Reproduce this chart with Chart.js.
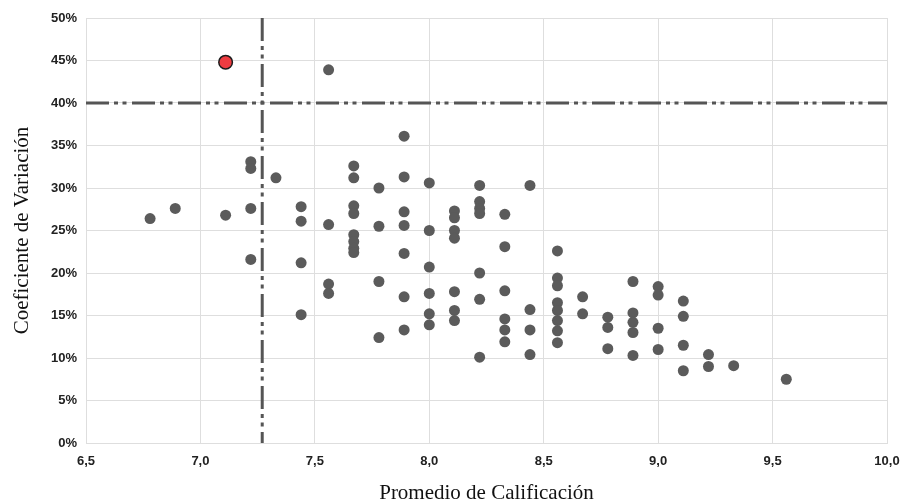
<!DOCTYPE html>
<html><head><meta charset="utf-8">
<script src="https://cdn.jsdelivr.net/npm/chart.js@4.4.0/dist/chart.umd.min.js"></script>
<style>html,body{margin:0;padding:0;background:#fff}#wrap{width:903px;height:502px}</style>
</head><body><div id="wrap"><canvas id="c" width="903" height="502"></canvas></div>
<script>
// Promedio de Calificación (x) and Coeficiente de Variación in % (y)
const promedio = [
  6.78, 6.89, 7.11,
  7.22, 7.22, 7.22, 7.22,
  7.33,
  7.44, 7.44, 7.44, 7.44,
  7.56, 7.56, 7.56, 7.56,
  7.67, 7.67, 7.67, 7.67, 7.67, 7.67, 7.67, 7.67,
  7.78, 7.78, 7.78, 7.78,
  7.89, 7.89, 7.89, 7.89, 7.89, 7.89, 7.89,
  8.00, 8.00, 8.00, 8.00, 8.00, 8.00,
  8.11, 8.11, 8.11, 8.11, 8.11, 8.11, 8.11,
  8.22, 8.22, 8.22, 8.22, 8.22, 8.22, 8.22,
  8.33, 8.33, 8.33, 8.33, 8.33, 8.33,
  8.44, 8.44, 8.44, 8.44,
  8.56, 8.56, 8.56, 8.56, 8.56, 8.56, 8.56, 8.56,
  8.67, 8.67,
  8.78, 8.78, 8.78,
  8.89, 8.89, 8.89, 8.89, 8.89,
  9.00, 9.00, 9.00, 9.00,
  9.11, 9.11, 9.11, 9.11,
  9.22, 9.22,
  9.33,
  9.56
];
const coeficiente = [
  26.4, 27.6, 26.8,
  33.1, 32.3, 27.6, 21.6,
  31.2,
  27.8, 26.1, 21.2, 15.1,
  43.9, 25.7, 18.7, 17.6,
  32.6, 31.2, 27.9, 27.0, 24.5, 23.7, 22.9, 22.4,
  30.0, 25.5, 19.0, 12.4,
  36.1, 31.3, 27.2, 25.6, 22.3, 17.2, 13.3,
  30.6, 25.0, 20.7, 17.6, 15.2, 13.9,
  27.3, 26.5, 25.0, 24.1, 17.8, 15.6, 14.4,
  30.3, 28.4, 27.6, 27.0, 20.0, 16.9, 10.1,
  26.9, 23.1, 17.9, 14.6, 13.3, 11.9,
  30.3, 15.7, 13.3, 10.4,
  22.6, 19.4, 18.5, 16.5, 15.6, 14.4, 13.2, 11.8,
  17.2, 15.2,
  14.8, 13.6, 11.1,
  19.0, 15.3, 14.2, 13.0, 10.3,
  18.4, 17.4, 13.5, 11.0,
  16.7, 14.9, 11.5, 8.5,
  10.4, 9.0,
  9.1,
  7.5
];
// highlighted case
const destacadoX = [7.11];
const destacadoY = [44.8];
// reference lines
const promedioMedio = 7.27;
const limiteCV = 40;
const xMin = 6.5, xMax = 10.0, yMin = 0, yMax = 50;

const puntos = promedio.map((v, i) => ({x: v, y: coeficiente[i]}));
const destacado = destacadoX.map((v, i) => ({x: v, y: destacadoY[i]}));
const dashPattern = [23, 5, 4, 4.5, 4, 5.5];

const gridColor = '#dedede';
const tickFont = {family: '"Liberation Sans", Arial, sans-serif', size: 13, weight: 'bold'};
const titleFont = {family: '"Liberation Serif", "Times New Roman", serif', size: 21, lineHeight: 1.2};

new Chart(document.getElementById('c'), {
  type: 'scatter',
  data: {
    datasets: [
      {
        type: 'line', data: [{x: xMin, y: limiteCV}, {x: xMax, y: limiteCV}],
        borderColor: '#555555', borderWidth: 3, borderDash: dashPattern,
        pointRadius: 0, fill: false, order: 3
      },
      {
        type: 'line', data: [{x: promedioMedio, y: yMax}, {x: promedioMedio, y: yMin}],
        borderColor: '#555555', borderWidth: 3, borderDash: dashPattern,
        pointRadius: 0, fill: false, order: 3
      },
      {
        data: puntos, backgroundColor: '#5b5b5b', borderColor: '#5b5b5b', borderWidth: 0,
        pointRadius: 5.5, order: 2
      },
      {
        data: destacado, backgroundColor: '#ee3c41', borderColor: '#1c1c1c', borderWidth: 1.5,
        pointRadius: 6.8, order: 1
      }
    ]
  },
  options: {
    responsive: false,
    animation: false,
    layout: {padding: {left: 0, right: 16, top: 18, bottom: 0}},
    plugins: {legend: {display: false}, tooltip: {enabled: false}},
    scales: {
      x: {
        type: 'linear', min: xMin, max: xMax,
        afterFit: s => { s.height = 59; s.paddingLeft = 0; s.paddingRight = 0; },
        grid: {color: gridColor, drawTicks: false},
        border: {color: gridColor},
        ticks: {
          stepSize: 0.5, padding: 11, color: '#222', font: tickFont,
          callback: v => v.toFixed(1).replace('.', ',')
        },
        title: {display: true, text: 'Promedio de Calificación', color: '#111', font: titleFont, padding: {top: 0, bottom: -4}}
      },
      y: {
        type: 'linear', min: yMin, max: yMax,
        afterFit: s => { s.width = 86; s.paddingTop = 0; s.paddingBottom = 0; },
        grid: {color: gridColor, drawTicks: false},
        border: {color: gridColor},
        ticks: {
          stepSize: 5, padding: 9, color: '#222', font: tickFont,
          callback: v => v + '%'
        },
        title: {display: true, text: 'Coeficiente de Variación', color: '#111', font: titleFont, padding: {top: 10, bottom: 0}}
      }
    }
  }
});
</script>
</body></html>
